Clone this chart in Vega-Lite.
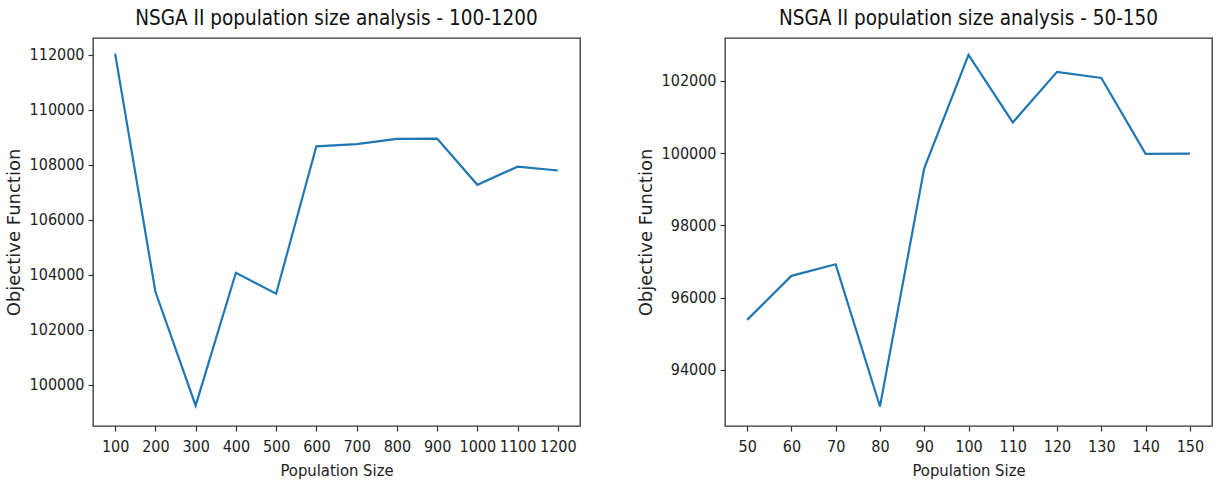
{
  "$schema": "https://vega.github.io/schema/vega-lite/v6.json",
  "background": "white",
  "padding": {"left": 4, "top": 7, "right": 5, "bottom": 5},
  "spacing": 55,
  "config": {
    "view": {"stroke": "#333333", "strokeWidth": 1.3},
    "axis": {
      "grid": false,
      "domain": false,
      "ticks": true,
      "tickSize": 5,
      "tickColor": "#333333",
      "tickWidth": 1.2,
      "labelFont": "DejaVu Sans Condensed",
      "labelFontSize": 16,
      "labelColor": "#222222",
      "labelPadding": 4,
      "titleFontWeight": "normal",
      "titleColor": "#222222"
    },
    "axisX": {"titleFont": "DejaVu Sans Condensed", "titleFontSize": 16.5, "titlePadding": 8, "labelPadding": 7},
    "axisY": {"titleFont": "DejaVu Sans", "titleFontSize": 18, "titlePadding": 6},
    "title": {"font": "DejaVu Sans Condensed", "fontSize": 20.5, "fontWeight": "normal", "color": "#111111", "offset": 9}
  },
  "hconcat": [
    {
      "title": "NSGA II population size analysis - 100-1200",
      "width": 487,
      "height": 388,
      "data": {"values": [
        {"size": 100, "obj": 112050},
        {"size": 200, "obj": 103400},
        {"size": 300, "obj": 99250},
        {"size": 400, "obj": 104080},
        {"size": 500, "obj": 103320},
        {"size": 600, "obj": 108680},
        {"size": 700, "obj": 108760},
        {"size": 800, "obj": 108950},
        {"size": 900, "obj": 108960},
        {"size": 1000, "obj": 107280},
        {"size": 1100, "obj": 107940},
        {"size": 1200, "obj": 107800}
      ]},
      "mark": {"type": "line", "color": "#1f77b4", "strokeWidth": 2.2},
      "encoding": {
        "x": {"field": "size", "type": "quantitative", "title": "Population Size",
          "scale": {"domain": [45, 1255], "nice": false, "zero": false},
          "axis": {"values": [100, 200, 300, 400, 500, 600, 700, 800, 900, 1000, 1100, 1200], "format": "d"}},
        "y": {"field": "obj", "type": "quantitative", "title": "Objective Function",
          "scale": {"domain": [98509, 112618], "nice": false, "zero": false},
          "axis": {"values": [100000, 102000, 104000, 106000, 108000, 110000, 112000], "format": "d"}}
      }
    },
    {
      "title": "NSGA II population size analysis - 50-150",
      "width": 487,
      "height": 388,
      "data": {"values": [
        {"size": 50, "obj": 95380},
        {"size": 60, "obj": 96600},
        {"size": 70, "obj": 96920},
        {"size": 80, "obj": 92980},
        {"size": 90, "obj": 99580},
        {"size": 100, "obj": 102720},
        {"size": 110, "obj": 100850},
        {"size": 120, "obj": 102250},
        {"size": 130, "obj": 102080},
        {"size": 140, "obj": 99980},
        {"size": 150, "obj": 99985}
      ]},
      "mark": {"type": "line", "color": "#1f77b4", "strokeWidth": 2.2},
      "encoding": {
        "x": {"field": "size", "type": "quantitative", "title": "Population Size",
          "scale": {"domain": [45, 155], "nice": false, "zero": false},
          "axis": {"values": [50, 60, 70, 80, 90, 100, 110, 120, 130, 140, 150], "format": "d"}},
        "y": {"field": "obj", "type": "quantitative", "title": "Objective Function",
          "scale": {"domain": [92441, 103189], "nice": false, "zero": false},
          "axis": {"values": [94000, 96000, 98000, 100000, 102000], "format": "d"}}
      }
    }
  ]
}
